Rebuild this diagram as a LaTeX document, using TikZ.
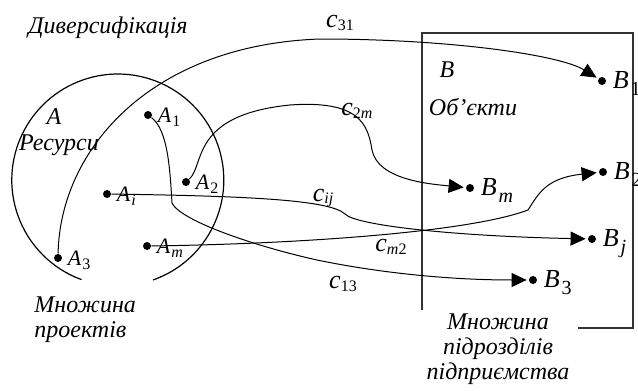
\documentclass[tikz,border=0pt]{standalone}
\usepackage{fontspec}
\setmainfont{Liberation Serif}
\usepackage{tikz}
\usetikzlibrary{positioning,arrows.meta}

\begin{document}
\begin{tikzpicture}[
    x=0.5pt, y=-0.5pt,
    dot/.style={circle, fill=black, inner sep=0pt, minimum size=4pt},
    word/.style={font=\fontsize{12}{12.5}\selectfont\itshape, inner sep=0pt},
    setlbl/.style={font=\fontsize{12}{13}\selectfont\itshape, inner sep=0pt},
    lblA/.style={anchor=base west, inner sep=0pt, xshift=2.5pt, yshift=-3.8pt,
                 font=\fontsize{11}{13}\selectfont},
    lblB/.style={anchor=base west, inner sep=0pt, xshift=3pt, yshift=-3.8pt,
                 font=\fontsize{13}{15}\selectfont},
    lblc/.style={inner sep=0pt, font=\fontsize{13}{15}\selectfont},
    link/.style={line width=0.5pt, -{Triangle[length=7.5pt,width=7pt]},
                 shorten >=1pt}
]

% Subscript helpers
\newcommand{\Asub}[1]{\textit{A}\kern0.5pt\raisebox{-2pt}{\fontsize{8}{9}\selectfont #1}}
\newcommand{\Bsub}[1]{\textit{B}\kern1pt\raisebox{-3.3pt}{\fontsize{10}{11}\selectfont #1}}
\newcommand{\csub}[1]{\textit{c}\raisebox{-1.3pt}{\fontsize{8}{9}\selectfont #1}}

\useasboundingbox (0,0) rectangle (638,391);

% Set A (projects), open at the bottom
\draw[line width=0.6pt] (153,280) arc[start angle=-70.6, end angle=250, radius=53pt];

% Set B (departments), frame open at the bottom left
\draw[line width=0.6pt, black!80] (422,310) -- (422,33) -- (633,33) -- (633,328) -- (578,328);

% Titles
\node[word] (div) at (108,28) {Диверсифікація};
\node[setlbl] (setA) at (54,117) {A};
\node[word] (res) at (59,145) {Ресурси};
\node[word, align=left, anchor=west] (proj) at (34,320) {Множина\\проектів};
\node[setlbl] (setB) at (447,70) {B};
\node[word] (obj) at (473,107) {Об’єкти};
\node[word, align=center] (dept) at (498,349) {Множина\\підрозділів\\підприємства};

% Elements of A
\node[dot] (a1) at (148,115) {};
\node[dot] (a2) at (186,182) {};
\node[dot] (ai) at (107,194) {};
\node[dot] (am) at (147,246) {};
\node[dot] (a3) at (58,258) {};
\node[lblA] at (a1.east) {\Asub{1}};
\node[lblA] at (a2.east) {\Asub{2}};
\node[lblA] at (ai.east) {\Asub{\textit{i}}};
\node[lblA] at (am.east) {\Asub{\textit{m}}};
\node[lblA] at (a3.east) {\Asub{3}};

% Elements of B
\node[dot] (b1) at (602,81) {};
\node[dot] (b2) at (603,172) {};
\node[dot] (bm) at (470,188) {};
\node[dot] (bj) at (592,239) {};
\node[dot] (b3) at (533,280) {};
\node[lblB] at (b1.east) {\Bsub{1}};
\node[lblB] at (b2.east) {\Bsub{2}};
\node[lblB] at (bm.east) {\Bsub{\textit{m}}};
\node[lblB] at (bj.east) {\Bsub{\textit{j}}};
\node[lblB] at (b3.east) {\Bsub{3}};

% Assignments
\draw[link] (a3) .. controls (60,150) and (150,45) .. (320,39)
    .. controls (450,39) and (560,55) .. (b1);
\draw[link] (a2) .. controls (205,165) and (190,115) .. (290,105)
    .. controls (360,100) and (368,125) .. (372,150)
    .. controls (378,180) and (430,184) .. (bm);
\draw[link] (ai) .. controls (250,196) and (330,200) .. (345,214)
    .. controls (355,225) and (450,236) .. (bj);
\draw[link] (am) .. controls (300,244) and (470,232) .. (528,210)
    .. controls (538,195) and (545,178) .. (b2);
\draw[link] (a1) .. controls (168,130) and (170,170) .. (172,203)
    .. controls (180,220) and (250,245) .. (317,260)
    .. controls (380,273) and (450,280) .. (b3);

% Cost labels
\node[lblc] (c31) at (340,23) {\csub{31}};
\node[lblc] (c2m) at (357,111) {\csub{2\textit{m}}};
\node[lblc] (cij) at (323,198) {\csub{\textit{ij}}};
\node[lblc] (cm2) at (391,247) {\csub{\textit{m}2}};
\node[lblc] (c13) at (343,284) {\csub{13}};

\end{tikzpicture}
\end{document}
